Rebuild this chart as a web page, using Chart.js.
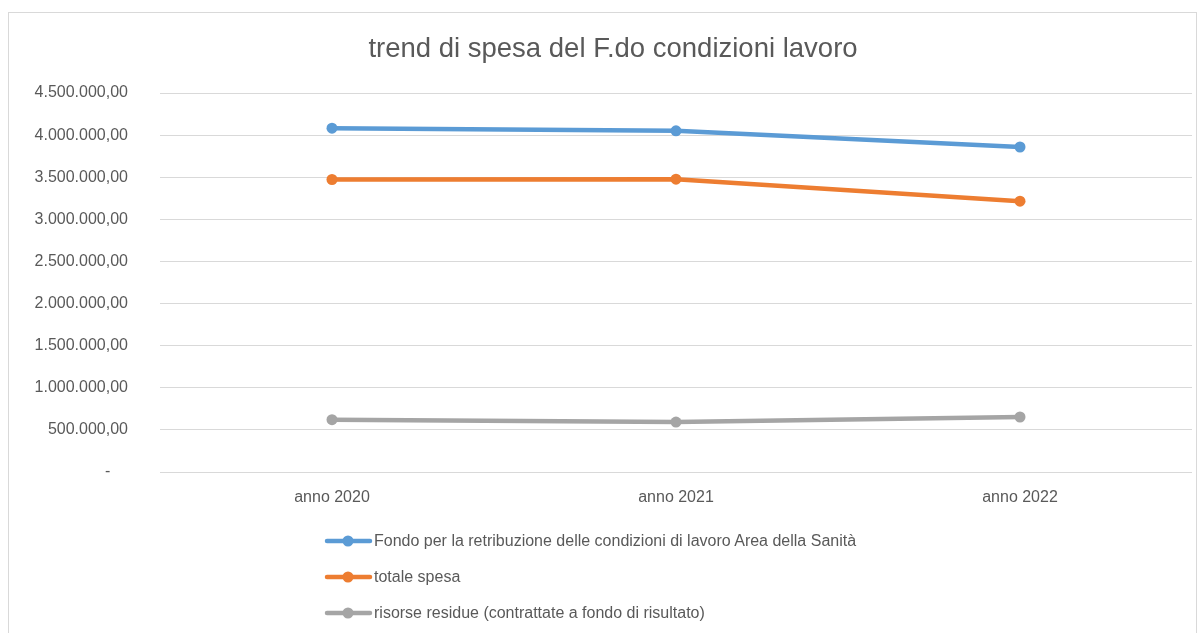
<!DOCTYPE html>
<html>
<head>
<meta charset="utf-8">
<script src="https://cdn.jsdelivr.net/npm/chart.js@4"></script>
<style>
  html, body { margin: 0; padding: 0; background: #fff; }
  #wrap { position: relative; width: 1200px; height: 633px; overflow: hidden; }
  #frame { position: absolute; left: 8px; top: 12px; width: 1189px; height: 640px; border: 1px solid #d9d9d9; box-sizing: border-box; }
  #chart { position: absolute; left: 0; top: 0; }
  #legend { position: absolute; left: 323px; top: 523px; font-family: "Liberation Sans", Arial, sans-serif; font-size: 16px; color: #595959; }
  #legend .item { height: 36px; display: flex; align-items: center; }
  #legend canvas { margin-right: 1px; }
</style>
</head>
<body>
<div id="wrap">
  <div id="frame"></div>
  <canvas id="chart" width="1200" height="633"></canvas>
  <div id="legend"></div>
</div>
<script>
const TITLE = 'trend di spesa del F.do condizioni lavoro';
const years = ['anno 2020', 'anno 2021', 'anno 2022'];
const seriesNames = [
  'Fondo per la retribuzione delle condizioni di lavoro Area della Sanità',
  'totale spesa',
  'risorse residue (contrattate a fondo di risultato)'
];
const fondo = [4082000, 4051000, 3859000];
const spesa = [3473000, 3477000, 3215000];
const residue = [621000, 593000, 653000];
const colors = ['#5b9bd5', '#ed7d31', '#a5a5a5'];

const FONT = '"Liberation Sans", Arial, sans-serif';

function fmt(v){
  if (v === 0) return '-    ';
  const s = Math.round(v).toString().replace(/\B(?=(\d{3})+(?!\d))/g, '.');
  return s + ',00';
}

const ds = [fondo, spesa, residue].map((data, i) => ({
  label: seriesNames[i],
  data,
  borderColor: colors[i],
  backgroundColor: colors[i],
  borderWidth: 4.5,
  pointRadius: 5.5,
  pointHoverRadius: 5.5,
  pointBorderWidth: 0,
  tension: 0
}));

// nudge the title to the right, the original is centred a bit off the plot
const titleShift = {
  id: 'titleShift',
  afterLayout(chart){
    const tb = chart.titleBlock;
    if (tb) tb.left += 34;
  }
};

const chart = new Chart(document.getElementById('chart'), {
  type: 'line',
  data: { labels: years, datasets: ds },
  plugins: [titleShift],
  options: {
    responsive: false,
    animation: false,
    layout: { padding: { left: 0, right: 8, top: 0, bottom: 0 } },
    plugins: {
      legend: { display: false },
      tooltip: { enabled: false },
      title: {
        display: true,
        text: TITLE,
        color: '#595959',
        font: { family: FONT, size: 27.5, weight: 'normal' },
        padding: { top: 33, bottom: 27 }
      }
    },
    scales: {
      x: {
        offset: true,
        grid: { display: false },
        border: { display: false },
        ticks: { color: '#595959', font: { family: FONT, size: 16 }, padding: 8 },
        afterFit(s){ s.height = 161; }
      },
      y: {
        min: 0,
        max: 4500000,
        grid: { color: '#d9d9d9', lineWidth: 1, drawTicks: false },
        border: { display: false },
        ticks: {
          stepSize: 500000,
          color: '#595959',
          font: { family: FONT, size: 16 },
          padding: 32,
          callback: v => fmt(v)
        },
        afterFit(s){ s.width = 160; }
      }
    }
  }
});

// legend, one entry per line, built from the datasets
const legend = document.getElementById('legend');
chart.data.datasets.forEach(d => {
  const item = document.createElement('div');
  item.className = 'item';
  const c = document.createElement('canvas');
  c.width = 50; c.height = 14;
  const g = c.getContext('2d');
  g.strokeStyle = d.borderColor; g.lineWidth = 4.5; g.lineCap = 'round';
  g.beginPath(); g.moveTo(4, 7); g.lineTo(47, 7); g.stroke();
  g.fillStyle = d.borderColor;
  g.beginPath(); g.arc(25, 7, 5.5, 0, Math.PI * 2); g.fill();
  const t = document.createElement('span');
  t.textContent = d.label;
  item.appendChild(c); item.appendChild(t);
  legend.appendChild(item);
});
</script>
</body>
</html>
